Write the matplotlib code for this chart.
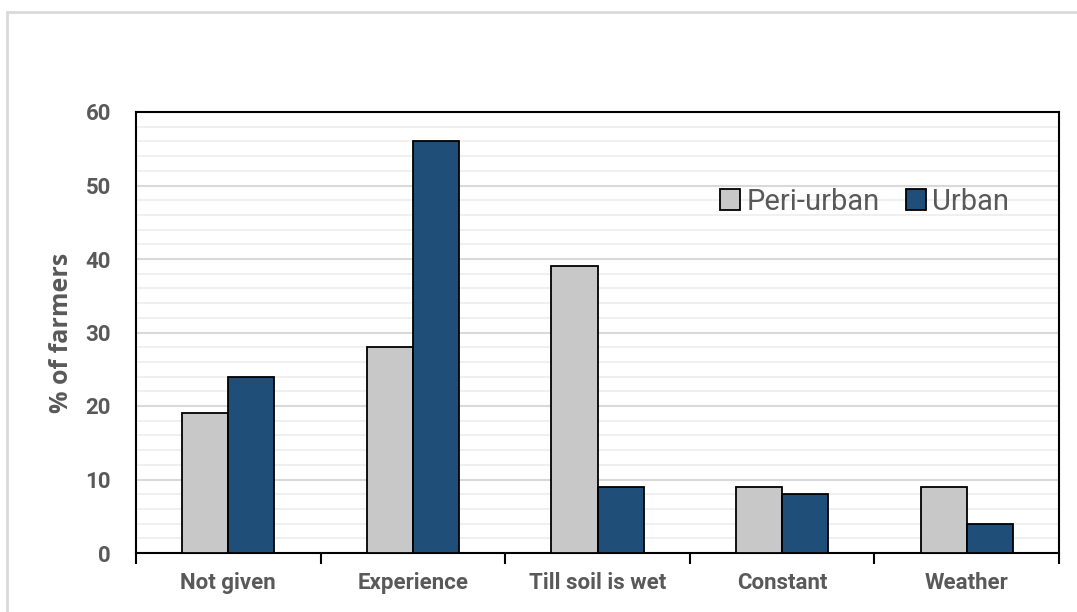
import matplotlib.pyplot as plt
import matplotlib.patches as mpatches
import numpy as np

categories = ['Not given', 'Experience', 'Till soil is wet', 'Constant', 'Weather']
peri_urban = [19, 28, 39, 9, 9]
urban = [24, 56, 9, 8, 4]

plt.rcParams['font.family'] = ['Roboto', 'DejaVu Sans']

txt = '#595959'
fig = plt.figure(figsize=(10.77, 6.12), dpi=100)
ax = fig.add_axes([136/1077, 1 - 553/612, (1059 - 136)/1077, (553 - 112)/612])

# outer frame of the chart area
fig.patches.append(mpatches.Rectangle((7/1077, -0.01), 1.0, 1 - 12/612 + 0.01,
                                      transform=fig.transFigure, fill=False,
                                      edgecolor='#d9d9d9', linewidth=2))

x = np.arange(len(categories))
w = 0.25
ax.bar(x - w/2, peri_urban, w, color='#c8c8c8', edgecolor='black', linewidth=1.3,
       label='Peri-urban', zorder=3)
ax.bar(x + w/2, urban, w, color='#1f4e79', edgecolor='black', linewidth=1.3,
       label='Urban', zorder=3)

ax.set_xlim(-0.5, len(categories) - 0.5)
ax.set_ylim(0, 60)
ax.set_yticks(np.arange(0, 61, 10))
ax.set_yticks(np.arange(0, 61, 2), minor=True)
ax.grid(axis='y', which='minor', color='#eeeeee', linewidth=1.2, zorder=0)
ax.grid(axis='y', which='major', color='#d9d9d9', linewidth=1.5, zorder=0)

ax.set_xticks(x)
ax.set_xticklabels(categories)
ax.set_xticks(np.arange(-0.5, len(categories), 1), minor=True)
ax.tick_params(axis='x', which='major', length=0, pad=14, labelsize=16, colors=txt)
ax.tick_params(axis='x', which='minor', length=8, width=1.5, direction='out', color='black')
ax.tick_params(axis='y', which='both', length=0, pad=18, labelsize=16, colors=txt)
for lab in ax.get_xticklabels() + ax.get_yticklabels():
    lab.set_fontweight('bold')

for s in ax.spines.values():
    s.set_color('black')
    s.set_linewidth(1.5)

ax.set_ylabel('% of farmers', fontsize=18, fontweight='bold', color=txt,
              family=['Open Sans', 'DejaVu Sans'], labelpad=8)

ax.legend(loc='upper left', bbox_to_anchor=(0.62, 0.855), frameon=False, ncol=2,
          fontsize=21, labelcolor=txt, handlelength=0.7, handleheight=0.7,
          handletextpad=0.2, columnspacing=0.9, borderaxespad=0)

fig.savefig('out.png', dpi=100)
